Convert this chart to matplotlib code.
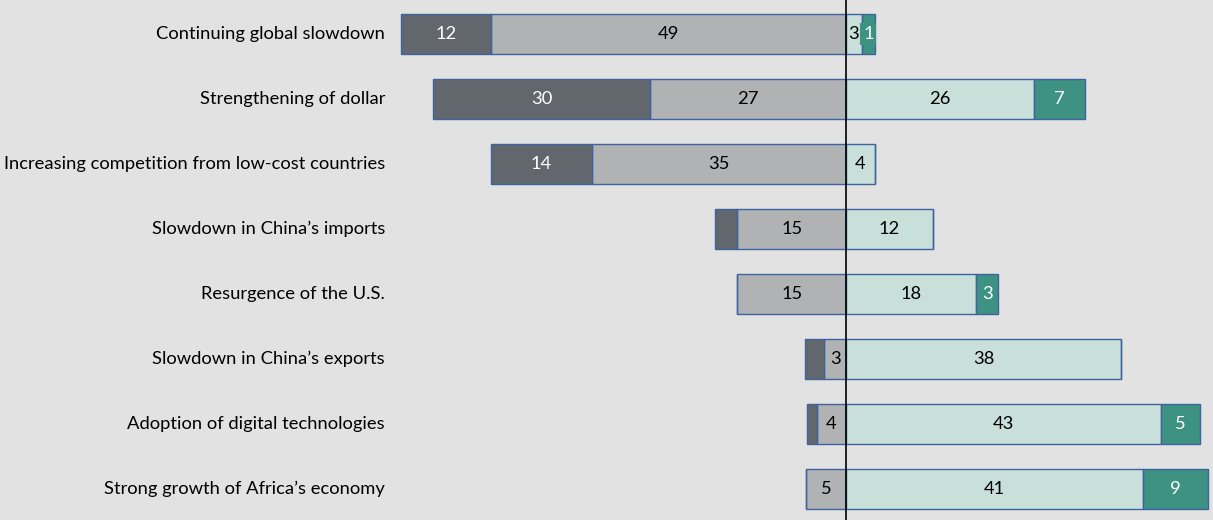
import matplotlib.pyplot as plt
import numpy as np

plt.rcParams["font.family"] = ["Lato", "DejaVu Sans"]

categories = [
    "Continuing global slowdown",
    "Strengthening of dollar",
    "Increasing competition from low-cost countries",
    "Slowdown in China\u2019s imports",
    "Resurgence of the U.S.",
    "Slowdown in China\u2019s exports",
    "Adoption of digital technologies",
    "Strong growth of Africa\u2019s economy",
]
# bar lengths (percent of respondents)
strong_neg = [12.4, 30, 14, 3, 0, 2.7, 1.4, 0]
neg = [49, 27, 35, 15, 15, 3, 4, 5.5]
pos = [2.2, 26, 4, 12, 18, 38, 43.5, 41]
strong_pos = [1.8, 7, 0, 0, 3, 0, 5.3, 9]
# printed labels (empty = no label shown)
strong_neg_lbl = ["12", "30", "14", "", "", "", "", ""]
neg_lbl = ["49", "27", "35", "15", "15", "3", "4", "5"]
pos_lbl = ["3", "26", "4", "12", "18", "38", "43", "41"]
strong_pos_lbl = ["1", "7", "", "", "3", "", "5", "9"]

BG = "#e2e2e2"
DARK = "#62666d"
LIGHT = "#b1b2b4"
MINT = "#c8e0d9"
TEAL = "#3e9282"
EDGE = "#3d64a0"

fig = plt.figure(figsize=(12.13, 5.2), dpi=100, facecolor=BG)
ax = fig.add_axes([0, 0, 1, 1], facecolor=BG)

px = 7.25  # pixels per unit
centre = 846
ax.set_xlim(-centre / px, (1213 - centre) / px)
ax.set_ylim((520 - 34) / 65, -34 / 65)

y = np.arange(len(categories))
h = 0.615
neg_a = np.array(neg, dtype=float)
sneg_a = np.array(strong_neg, dtype=float)
pos_a = np.array(pos, dtype=float)
spos_a = np.array(strong_pos, dtype=float)

kw = dict(height=h, edgecolor=EDGE, linewidth=1)
ax.barh(y, -neg_a, left=0, color=LIGHT, **kw)
ax.barh(y, -sneg_a, left=-neg_a, color=DARK, **kw)
ax.barh(y, pos_a, left=0, color=MINT, **kw)
ax.barh(y, spos_a, left=pos_a, color=TEAL, **kw)

fs = 13.2
for i in y:
    if strong_neg_lbl[i]:
        ax.text(-neg_a[i] - sneg_a[i] / 2, i, strong_neg_lbl[i], ha="center",
                va="center", color="white", fontsize=fs)
    if neg_lbl[i]:
        ax.text(-neg_a[i] / 2, i, neg_lbl[i], ha="center", va="center",
                color="black", fontsize=fs)
    if pos_lbl[i]:
        ax.text(pos_a[i] / 2, i, pos_lbl[i], ha="center", va="center",
                color="black", fontsize=fs)
    if strong_pos_lbl[i]:
        bbox = None
        if strong_pos[i] < 2:
            bbox = dict(boxstyle="square,pad=0.15", facecolor=TEAL, edgecolor="none")
        ax.text(pos_a[i] + spos_a[i] / 2, i, strong_pos_lbl[i], ha="center",
                va="center", color="white", fontsize=fs, bbox=bbox)

lab_tr = ax.get_yaxis_transform()
for i, c in enumerate(categories):
    ax.text(385 / 1213, i, c, transform=lab_tr, ha="right", va="center",
            fontsize=fs, color="black")

ax.axvline(0, color="black", linewidth=1.2)

for s in ax.spines.values():
    s.set_visible(False)
ax.set_xticks([])
ax.set_yticks([])

fig.savefig("out.png", dpi=100, facecolor=BG)
